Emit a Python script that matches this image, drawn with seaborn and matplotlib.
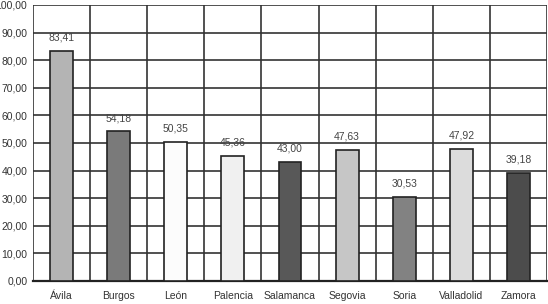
import seaborn as sns
import matplotlib.pyplot as plt
import pandas as pd
import numpy as np

provincias = ["Ávila", "Burgos", "León", "Palencia", "Salamanca", "Segovia", "Soria", "Valladolid", "Zamora"]
valores = [83.41, 54.18, 50.35, 45.36, 43.00, 47.63, 30.53, 47.92, 39.18]
colores = ["#b4b4b4", "#7a7a7a", "#fcfcfc", "#f0f0f0", "#585858", "#c6c6c6", "#828282", "#dcdcdc", "#4c4c4c"]
yticks = np.arange(0, 101, 10)

df = pd.DataFrame({"provincia": provincias, "valor": valores})

sns.set_style("white")
plt.rcParams['font.family'] = ['Liberation Sans', 'DejaVu Sans']

fig = plt.figure(figsize=(5.48, 3.04), dpi=100)
ax = fig.add_axes([33 / 548, 23 / 304, 514 / 548, 276 / 304])

sns.barplot(data=df, x="provincia", y="valor", hue="provincia", palette=colores,
            width=0.4, edgecolor="#222222", linewidth=1.2, legend=False, ax=ax, zorder=3)

# grid: horizontal every 10, vertical between categories
for y in yticks:
    ax.axhline(y, color="#333333", lw=1.2, zorder=1)
for i in range(len(provincias) + 1):
    ax.axvline(i - 0.5, color="#333333", lw=1.2, zorder=1)

for i, v in enumerate(valores):
    ax.annotate(f"{v:.2f}".replace(".", ","), (i, v), xytext=(0, 6), textcoords="offset points",
                ha="center", va="bottom", fontsize=7.5, color="#444444")

ax.set_xlim(-0.5, len(provincias) - 0.5)
ax.set_ylim(0, 100)
ax.set_yticks(yticks)
ax.set_yticklabels([f"{t:.2f}".replace(".", ",") for t in yticks], fontsize=7.5, color="#333333")
ax.set_xticks(range(len(provincias)))
ax.set_xticklabels(provincias, fontsize=7.5, color="#333333")
ax.tick_params(axis="x", length=0, pad=7)
ax.tick_params(axis="y", length=3, width=1, color="#333333", pad=1)
ax.set_xticks(np.arange(-0.5, len(provincias)), minor=True)
ax.tick_params(axis="x", which="minor", length=3, width=1, color="#333333")
ax.set_xlabel("")
ax.set_ylabel("")
for s in ax.spines.values():
    s.set_visible(False)
ax.spines["bottom"].set_visible(True)
ax.spines["bottom"].set_color("#222222")
ax.spines["bottom"].set_linewidth(1.6)

fig.savefig("out.png", dpi=100)
